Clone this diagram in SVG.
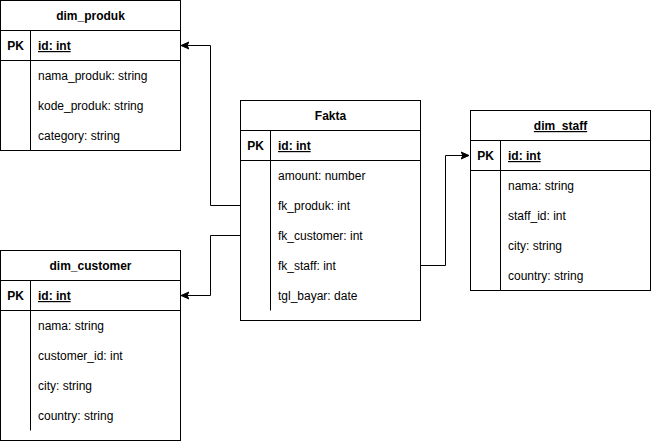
<svg xmlns="http://www.w3.org/2000/svg" width="663" height="441" viewBox="0 0 663 441">
<style>
.box{fill:#fff;stroke:#000;stroke-width:1}
.ln{stroke:#000;stroke-width:1;fill:none}
text{font-family:"Liberation Sans",Arial,sans-serif;font-size:12px;fill:#000}
.t{font-weight:bold;text-anchor:middle}
.pk{font-weight:bold;text-anchor:middle}
.id{font-weight:bold;text-decoration:underline}
.u{text-decoration:underline}
</style>
<defs>
<marker id="arr" markerWidth="10" markerHeight="10" refX="8" refY="5" orient="auto" markerUnits="userSpaceOnUse">
<path d="M0,1.5 L8,5 L0,8.5 L2,5 Z" fill="#000" stroke="#000" stroke-width="1"/>
</marker>
</defs>
<g id="connectors">
<path class="ln" d="M240.5,205.5 H210.5 V45.5 H181" marker-end="url(#arr)"/>
<path class="ln" d="M240.5,235.5 H210.5 V295.5 H181" marker-end="url(#arr)"/>
<path class="ln" d="M420.5,265.5 H445.5 V155.5 H469" marker-end="url(#arr)"/>
</g>
<g id="dim_produk">
<rect class="box" x="0.5" y="0.5" width="180" height="150"/>
<path class="ln" d="M0.5,30.5 H180.5 M0.5,60.5 H180.5 M30.5,30.5 V150.5"/>
<text class="t" x="90.5" y="20">dim_produk</text>
<text class="pk" x="15.5" y="50">PK</text>
<text class="id" x="38" y="50">id: int</text>
<text x="38" y="80">nama_produk: string</text>
<text x="38" y="110">kode_produk: string</text>
<text x="38" y="140">category: string</text>
</g>
<g id="dim_customer">
<rect class="box" x="0.5" y="250.5" width="180" height="190"/>
<path class="ln" d="M0.5,280.5 H180.5 M0.5,310.5 H180.5 M30.5,280.5 V430.5"/>
<text class="t" x="90.5" y="270">dim_customer</text>
<text class="pk" x="15.5" y="300">PK</text>
<text class="id" x="38" y="300">id: int</text>
<text x="38" y="330">nama: string</text>
<text x="38" y="360">customer_id: int</text>
<text x="38" y="390">city: string</text>
<text x="38" y="420">country: string</text>
</g>
<g id="fakta">
<rect class="box" x="240.5" y="100.5" width="180" height="220"/>
<path class="ln" d="M240.5,130.5 H420.5 M240.5,160.5 H420.5 M270.5,130.5 V310.5"/>
<text class="t" x="330.5" y="120">Fakta</text>
<text class="pk" x="255.5" y="150">PK</text>
<text class="id" x="278" y="150">id: int</text>
<text x="278" y="180">amount: number</text>
<text x="278" y="210">fk_produk: int</text>
<text x="278" y="240">fk_customer: int</text>
<text x="278" y="270">fk_staff: int</text>
<text x="278" y="300">tgl_bayar: date</text>
</g>
<g id="dim_staff">
<rect class="box" x="470.5" y="110.5" width="180" height="180"/>
<path class="ln" d="M470.5,140.5 H650.5 M470.5,170.5 H650.5 M500.5,140.5 V290.5"/>
<text class="t u" x="560.5" y="130">dim_staff</text>
<text class="pk" x="485.5" y="160">PK</text>
<text class="id" x="508" y="160">id: int</text>
<text x="508" y="190">nama: string</text>
<text x="508" y="220">staff_id: int</text>
<text x="508" y="250">city: string</text>
<text x="508" y="280">country: string</text>
</g>
</svg>
